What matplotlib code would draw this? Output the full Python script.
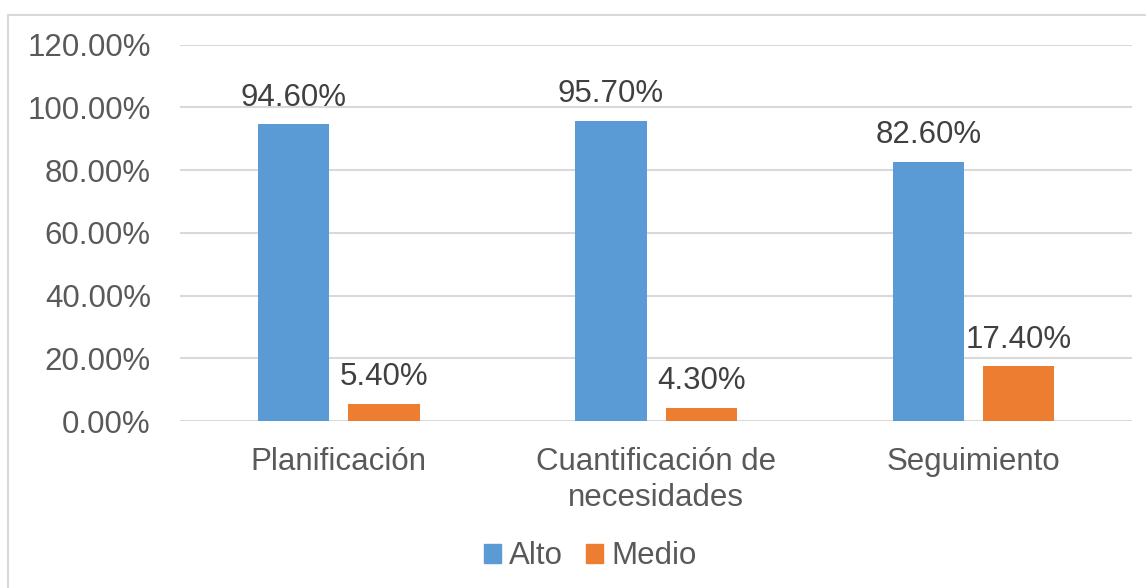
import matplotlib.pyplot as plt
import matplotlib.patches as mpatches
import numpy as np

categorias = ["Planificación", "Cuantificación de\nnecesidades", "Seguimiento"]
alto = [0.946, 0.957, 0.826]
medio = [0.054, 0.043, 0.174]
series = ["Alto", "Medio"]
colores = ["#5B9BD5", "#ED7D31"]
yticks = [0, 0.2, 0.4, 0.6, 0.8, 1.0, 1.2]

plt.rcParams['font.family'] = ['Liberation Sans', 'DejaVu Sans']
fs = 22.5

fig = plt.figure(figsize=(11.46, 5.88), dpi=100)
ax = fig.add_axes([0.157, 0.284, 0.831, 0.640])

# marco del grafico
fig.patches.append(mpatches.Rectangle((0.007, -0.1), 1.2, 1.075, transform=fig.transFigure,
                                      fill=False, edgecolor="#d9d9d9", linewidth=1.5))

x = np.arange(len(categorias))
off = 0.1425
w = 0.225
b1 = ax.bar(x - off, alto, w, color=colores[0], label=series[0], zorder=3)
b2 = ax.bar(x + off, medio, w, color=colores[1], label=series[1], zorder=3)

for bars, vals in [(b1, alto), (b2, medio)]:
    for b, v in zip(bars, vals):
        ax.annotate(f"{v*100:.2f}%", (b.get_x() + b.get_width() / 2, v),
                    xytext=(0, 8.5), textcoords="offset points",
                    ha="center", va="bottom", fontsize=fs, color="#404040")

ax.set_xlim(-0.5, 2.5)
ax.set_ylim(0, 1.2)
ax.set_yticks(yticks)
ax.set_yticklabels([f"{t*100:.2f}%" for t in yticks])
ax.set_xticks(x)
ax.set_xticklabels(categorias, linespacing=1.25)
ax.tick_params(axis="y", length=0, pad=21, labelsize=fs, labelcolor="#595959")
ax.tick_params(axis="x", length=0, pad=19, labelsize=fs, labelcolor="#595959")
ax.grid(axis="y", color="#d9d9d9", linewidth=1.5, zorder=0)
for s in ax.spines.values():
    s.set_visible(False)

h = [mpatches.Patch(color=c) for c in colores]
fig.legend(h, series, loc="center", bbox_to_anchor=(0.515, 0.054), ncol=2, frameon=False,
           fontsize=fs, labelcolor="#595959", handlelength=0.55, handleheight=0.55,
           handletextpad=0.26, columnspacing=0.74)

fig.savefig("out.png", dpi=100)
